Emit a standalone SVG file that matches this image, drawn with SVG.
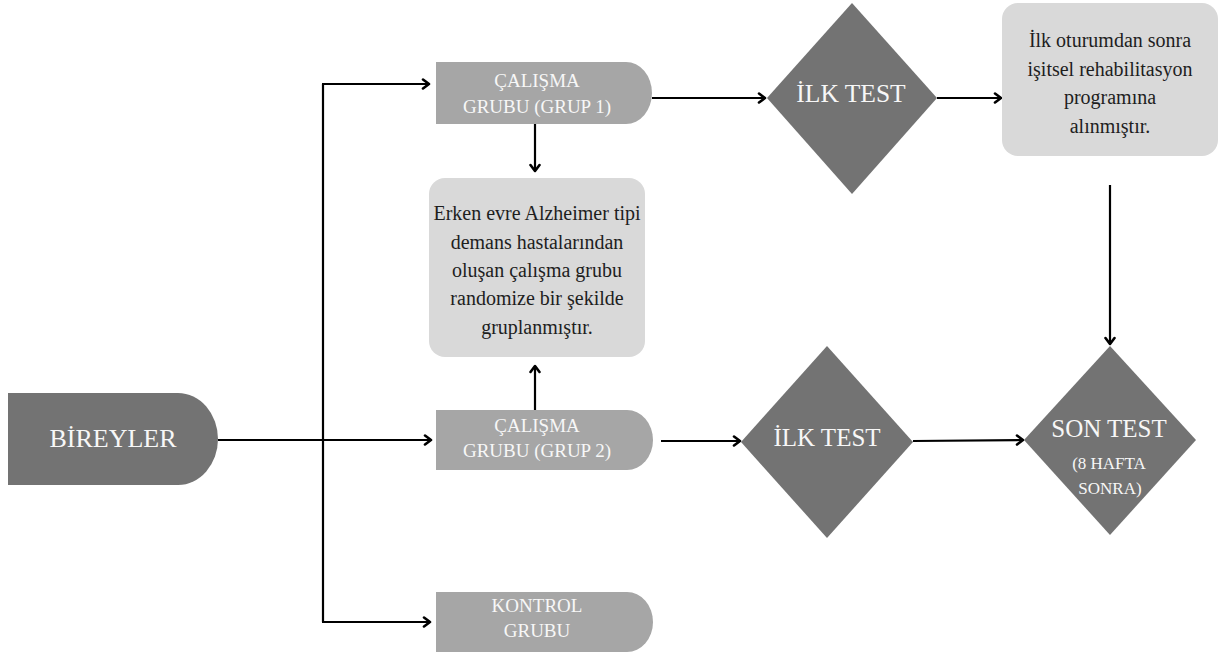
<svg xmlns="http://www.w3.org/2000/svg" width="1220" height="657" viewBox="0 0 1220 657">
<style>
  .dark { fill: #737373; }
  .mid { fill: #a6a6a6; }
  .light { fill: #d9d9d9; }
  text { font-family: "Liberation Serif", "Times New Roman", serif; text-anchor: middle; }
  .wt { fill: #f7f7f7; }
  .bt { fill: #1e1e1e; font-size: 20px; }
  .grp { font-size: 19px; }
  .conn { fill: none; stroke: #000; stroke-width: 2.2; }
</style>
<defs>
  <marker id="arr" markerUnits="userSpaceOnUse" markerWidth="14" markerHeight="14" refX="8" refY="6" orient="auto">
    <path d="M2,1.5 L8,6 L2,10.5" fill="none" stroke="#000" stroke-width="2.6" stroke-linejoin="round" stroke-linecap="round"/>
  </marker>
</defs>
<rect width="1220" height="657" fill="#ffffff"/>

<g id="connectors">
  <path class="conn" d="M218,440 H431" marker-end="url(#arr)"/>
  <path class="conn" d="M323,84 V622"/>
  <path class="conn" d="M322,84 H429" marker-end="url(#arr)"/>
  <path class="conn" d="M322,622 H430" marker-end="url(#arr)"/>
  <path class="conn" d="M535,124 V171" marker-end="url(#arr)"/>
  <path class="conn" d="M535,410 V366" marker-end="url(#arr)"/>
  <path class="conn" d="M652,98 H765" marker-end="url(#arr)"/>
  <path class="conn" d="M937,98 H1001" marker-end="url(#arr)"/>
  <path class="conn" d="M661,441 H740" marker-end="url(#arr)"/>
  <path class="conn" d="M913,441 L1023,440" marker-end="url(#arr)"/>
  <path class="conn" d="M1110,185 V344" marker-end="url(#arr)"/>
</g>

<g id="bireyler">
  <path class="dark" d="M8,393 H178 A40,46 0 0 1 218,439 A40,46 0 0 1 178,485 H8 Z"/>
  <text class="wt" x="113" y="447" font-size="26">BİREYLER</text>
</g>

<g id="grup1">
  <path class="mid" d="M436,62 H626 A26,31 0 0 1 652,93 A26,31 0 0 1 626,124 H436 Z"/>
  <text class="wt grp" x="537" y="87">ÇALIŞMA</text>
  <text class="wt grp" x="537" y="113">GRUBU (GRUP 1)</text>
</g>

<g id="grup2">
  <path class="mid" d="M436,410 H627 A26,30 0 0 1 653,440 A26,30 0 0 1 627,470 H436 Z"/>
  <text class="wt grp" x="537" y="432">ÇALIŞMA</text>
  <text class="wt grp" x="537" y="457">GRUBU (GRUP 2)</text>
</g>

<g id="kontrol">
  <path class="mid" d="M436,592 H627 A26,30 0 0 1 653,622 A26,30 0 0 1 627,652 H436 Z"/>
  <text class="wt grp" x="537" y="612">KONTROL</text>
  <text class="wt grp" x="537" y="637">GRUBU</text>
</g>

<g id="erken">
  <rect class="light" x="429" y="178" width="216" height="179" rx="16"/>
  <text class="bt" x="537" y="220">Erken evre Alzheimer tipi</text>
  <text class="bt" x="537" y="249">demans hastalarından</text>
  <text class="bt" x="537" y="277">oluşan çalışma grubu</text>
  <text class="bt" x="537" y="305">randomize bir şekilde</text>
  <text class="bt" x="537" y="334">gruplanmıştır.</text>
</g>

<g id="ilktest1">
  <polygon class="dark" points="852,3 937,98 852,194 767,98"/>
  <text class="wt" x="851" y="102" font-size="25.5">İLK TEST</text>
</g>

<g id="program">
  <rect class="light" x="1002" y="3" width="216" height="153" rx="16"/>
  <text class="bt" x="1110" y="47">İlk oturumdan sonra</text>
  <text class="bt" x="1110" y="76">işitsel rehabilitasyon</text>
  <text class="bt" x="1110" y="104">programına</text>
  <text class="bt" x="1110" y="133">alınmıştır.</text>
</g>

<g id="ilktest2">
  <polygon class="dark" points="827,346 913,442 827,538 741,442"/>
  <text class="wt" x="827" y="446" font-size="25">İLK TEST</text>
</g>

<g id="sontest">
  <polygon class="dark" points="1110,346 1196,440 1110,535 1024,440"/>
  <text class="wt" x="1109" y="437" font-size="25">SON TEST</text>
  <text class="wt" x="1109" y="469" font-size="17">(8 HAFTA</text>
  <text class="wt" x="1110" y="494" font-size="17">SONRA)</text>
</g>
</svg>
